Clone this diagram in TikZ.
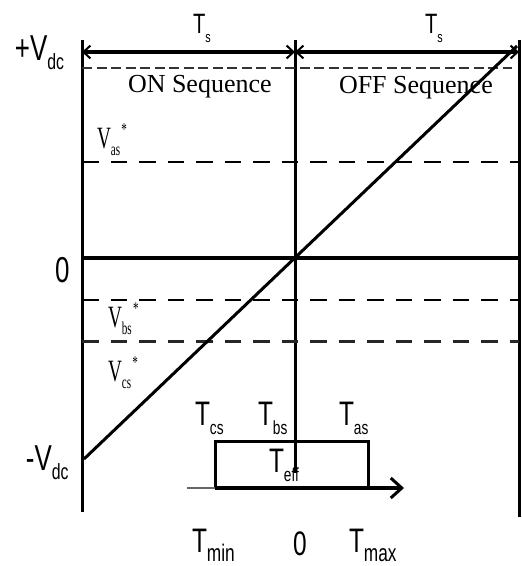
\documentclass[tikz,border=0pt]{standalone}
\usepackage{fontspec}
\setmainfont{Liberation Sans}
\newfontfamily\serf{Liberation Serif}
\usetikzlibrary{arrows.meta}
% T with subscript: #2 sub text, #3 sub size
\newcommand{\Tlab}[3][34]{\scalebox{0.72}[1]{\fontsize{#1}{#1}\selectfont T\raisebox{-9pt}{\fontsize{#3}{#3}\selectfont #2}}}
\newcommand{\Vlab}[2]{\scalebox{0.72}[1]{\fontsize{36}{36}\selectfont #1V\raisebox{-9pt}{\fontsize{22}{22}\selectfont #2}}}
\newcommand{\Vstar}[1]{\scalebox{0.62}[1]{\serf\fontsize{31}{31}\selectfont V\raisebox{-7pt}{\fontsize{18}{18}\selectfont #1}\hspace{2pt}\raisebox{13pt}{\fontsize{18}{18}\selectfont *}}}
\tikzset{
  lab/.style={inner sep=0pt, outer sep=0pt, anchor=base west},
  axis/.style={line width=3pt, black},
  dsh/.style={line width=2.6pt, dash pattern=on 16.5pt off 12pt},
  dshtop/.style={line width=2.2pt, black!80, dash pattern=on 10pt off 4.5pt},
  barb/.style={line width=3.5pt, {Straight Barb[length=7pt,width=13pt,line width=2pt]}-{Straight Barb[length=7pt,width=13pt,line width=2pt]}},
}
\begin{document}
\begin{tikzpicture}[x=1pt,y=-1pt]
\useasboundingbox (0,0) rectangle (522,566);
% coordinates
\coordinate (Ltop) at (82,40);   \coordinate (Lbot) at (82,512);
\coordinate (Mtop) at (295,40);  \coordinate (Mbot) at (295,473);
\coordinate (Rtop) at (519,40);  \coordinate (Rbot) at (519,517);
\coordinate (A1) at (82,52); \coordinate (A2) at (295,52); \coordinate (A3) at (519,52);
\coordinate (T1) at (82,68);  \coordinate (T2) at (512,68);
\coordinate (S1) at (82,162); \coordinate (S2) at (519,162);
\coordinate (Z1) at (82,258); \coordinate (Z2) at (519,258);
\coordinate (B1) at (82,300); \coordinate (B2) at (519,300);
\coordinate (C1) at (82,341); \coordinate (C2) at (519,341);
\coordinate (D1) at (84,459); \coordinate (D2) at (517,46);
\coordinate (X1) at (187,488); \coordinate (X2) at (404,488);
\coordinate (Q1) at (215,441); \coordinate (Q2) at (368,488);
% axes
\draw[axis] (Ltop) -- (Lbot);
\draw[axis] (Mtop) -- (Mbot);
\draw[axis] (Rtop) -- (Rbot);
% top arrows
\draw[barb] (A1) -- (A2);
\draw[barb] (A2) -- (A3);
% dashed levels
\draw[dshtop] (T1) -- (T2);
\draw[dsh] (S1) -- (S2);
\draw[line width=3.2pt] (Z1) -- (Z2);
\draw[dsh] (B1) -- (B2);
\draw[dsh, line width=3pt, black!85] (C1) -- (C2);
% ramp
\draw[line width=3pt] (D1) -- (D2);
% Teff box
\draw[line width=3pt] (Q1 |- Q2) -- (Q1) -- (Q2 |- Q1) -- (Q2);
\draw[line width=2.5pt, black!60] (X1) -- (Q1 |- Q2);
\draw[line width=4.5pt, -{Straight Barb[length=11pt,width=20pt,line width=3pt]}] (Q1 |- Q2) -- (X2);
% labels
\node[lab] (ts1) at (193,33) {\Tlab[28]{s}{15}};
\node[lab] (ts2) at (425,33) {\Tlab[28]{s}{15}};
\node[lab] (vp) at (15,60) {\Vlab{+}{dc}};
\node[lab] (vm) at (26,470) {\Vlab{-}{dc}};
\node[lab] (zero) at (55,282) {\scalebox{0.72}[1]{\fontsize{36}{36}\selectfont 0}};
\node[lab] (on) at (128,92) {\serf\fontsize{26}{26}\selectfont ON Sequence};
\node[lab] (off) at (339,93) {\serf\fontsize{26}{26}\selectfont OFF Sequence};
\node[lab] (vas) at (97,148) {\Vstar{as}};
\node[lab] (vbs) at (108,327) {\Vstar{bs}};
\node[lab] (vcs) at (108,381) {\Vstar{cs}};
\node[lab] (tcs) at (195,425) {\Tlab{cs}{19}};
\node[lab] (tbs) at (258,425) {\Tlab{bs}{19}};
\node[lab] (tas) at (339,425) {\Tlab{as}{19}};
\node[lab] (teff) at (269,472) {\Tlab{eff}{19}};
\node[lab] (tmin) at (192,552) {\Tlab{min}{24}};
\node[lab] (z2) at (293,555) {\scalebox{0.72}[1]{\fontsize{34}{34}\selectfont 0}};
\node[lab] (tmax) at (349,552) {\Tlab{max}{24}};
\end{tikzpicture}
\end{document}
